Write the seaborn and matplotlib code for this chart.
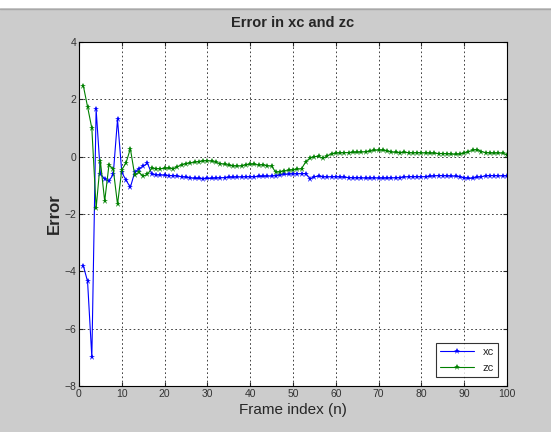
import numpy as np
import pandas as pd
import matplotlib
matplotlib.use("Agg")
import matplotlib.pyplot as plt
import seaborn as sns

# frame index 1..100
frames = list(range(1, 101))

xc = [-3.80, -4.35, -7.00, 1.65, -0.60, -0.78, -0.85, -0.62, 1.30, -0.55,
      -0.82, -1.07, -0.55, -0.42, -0.33, -0.23, -0.60, -0.64, -0.64, -0.65,
      -0.66, -0.66, -0.68, -0.70, -0.72, -0.74, -0.76, -0.76, -0.77, -0.76,
      -0.76, -0.75, -0.74, -0.73, -0.72, -0.72, -0.71, -0.71, -0.70, -0.70,
      -0.70, -0.69, -0.69, -0.68, -0.68, -0.66, -0.64, -0.62, -0.61, -0.60,
      -0.60, -0.59, -0.59, -0.77, -0.70, -0.68, -0.70, -0.71, -0.70, -0.70,
      -0.71, -0.72, -0.73, -0.74, -0.74, -0.74, -0.75, -0.75, -0.74, -0.75,
      -0.75, -0.75, -0.74, -0.74, -0.73, -0.71, -0.70, -0.70, -0.70, -0.70,
      -0.70, -0.69, -0.67, -0.66, -0.66, -0.67, -0.68, -0.68, -0.70, -0.74,
      -0.76, -0.75, -0.72, -0.70, -0.67, -0.66, -0.66, -0.67, -0.67, -0.67]

zc = [2.48, 1.74, 0.99, -1.80, -0.16, -1.55, -0.29, -0.43, -1.66, -0.46,
      -0.21, 0.28, -0.63, -0.55, -0.68, -0.62, -0.40, -0.42, -0.42, -0.41,
      -0.40, -0.42, -0.35, -0.28, -0.24, -0.22, -0.20, -0.17, -0.15, -0.14,
      -0.16, -0.20, -0.24, -0.27, -0.30, -0.32, -0.33, -0.32, -0.28, -0.27,
      -0.26, -0.30, -0.28, -0.32, -0.33, -0.55, -0.52, -0.50, -0.48, -0.46,
      -0.44, -0.42, -0.17, -0.05, 0.00, 0.01, -0.06, 0.03, 0.10, 0.12,
      0.13, 0.14, 0.14, 0.15, 0.15, 0.16, 0.17, 0.19, 0.22, 0.23,
      0.22, 0.20, 0.16, 0.15, 0.14, 0.15, 0.14, 0.13, 0.14, 0.13,
      0.13, 0.12, 0.12, 0.11, 0.11, 0.10, 0.09, 0.08, 0.09, 0.12,
      0.18, 0.22, 0.25, 0.18, 0.14, 0.13, 0.12, 0.13, 0.12, 0.07]

df = pd.DataFrame({"n": frames * 2, "err": xc + zc,
                   "serie": ["xc"] * len(frames) + ["zc"] * len(frames)})

sns.set_style("white")
plt.rcParams["font.family"] = ["Liberation Sans Narrow", "Liberation Sans", "DejaVu Sans"]

fig = plt.figure(figsize=(5.51, 4.32), dpi=100)
fig.patch.set_facecolor("#cccccc")
# white strip on top of the window
fig.add_artist(plt.Rectangle((0, 1 - 8 / 432), 1, 8 / 432, transform=fig.transFigure,
                             facecolor="white", edgecolor="none", zorder=-5))
fig.add_artist(plt.Line2D([0, 1], [1 - 8.5 / 432] * 2, transform=fig.transFigure,
                          color="#a8a8a8", lw=1, zorder=-5))

ax = fig.add_axes([79 / 551, 1 - 386 / 432, 428 / 551, 344 / 432])
ax.set_facecolor("white")

sns.lineplot(data=df, x="n", y="err", hue="serie", palette={"xc": "#0000ff", "zc": "#008000"},
             marker="*", markersize=4.5, markeredgewidth=0, linewidth=0.8, ax=ax)

ax.set_xlim(0, 100)
ax.set_ylim(-8, 4)
ax.set_xticks(range(0, 101, 10))
ax.set_yticks(range(-8, 5, 2))
ax.grid(True, color="#222222", linestyle=(0, (2, 3)), linewidth=0.6)
for s in ax.spines.values():
    s.set_color("black")
    s.set_linewidth(0.8)
ax.tick_params(direction="in", length=3, labelsize=7.5, labelcolor="#333333", pad=2,
               top=True, right=True, bottom=True, left=True)

ax.set_title("Error in xc and zc", fontsize=10.5, fontweight="bold", pad=11)
ax.set_xlabel("Frame index (n)", fontsize=11, labelpad=3)
ax.set_ylabel("Error", fontsize=12, fontweight="bold", labelpad=2)

leg = ax.legend(loc="lower right", fontsize=8, frameon=True, fancybox=False,
                edgecolor="black", handlelength=3, borderaxespad=0.8)
leg.get_frame().set_linewidth(0.8)

fig.savefig("out.png", dpi=100, facecolor=fig.get_facecolor())
